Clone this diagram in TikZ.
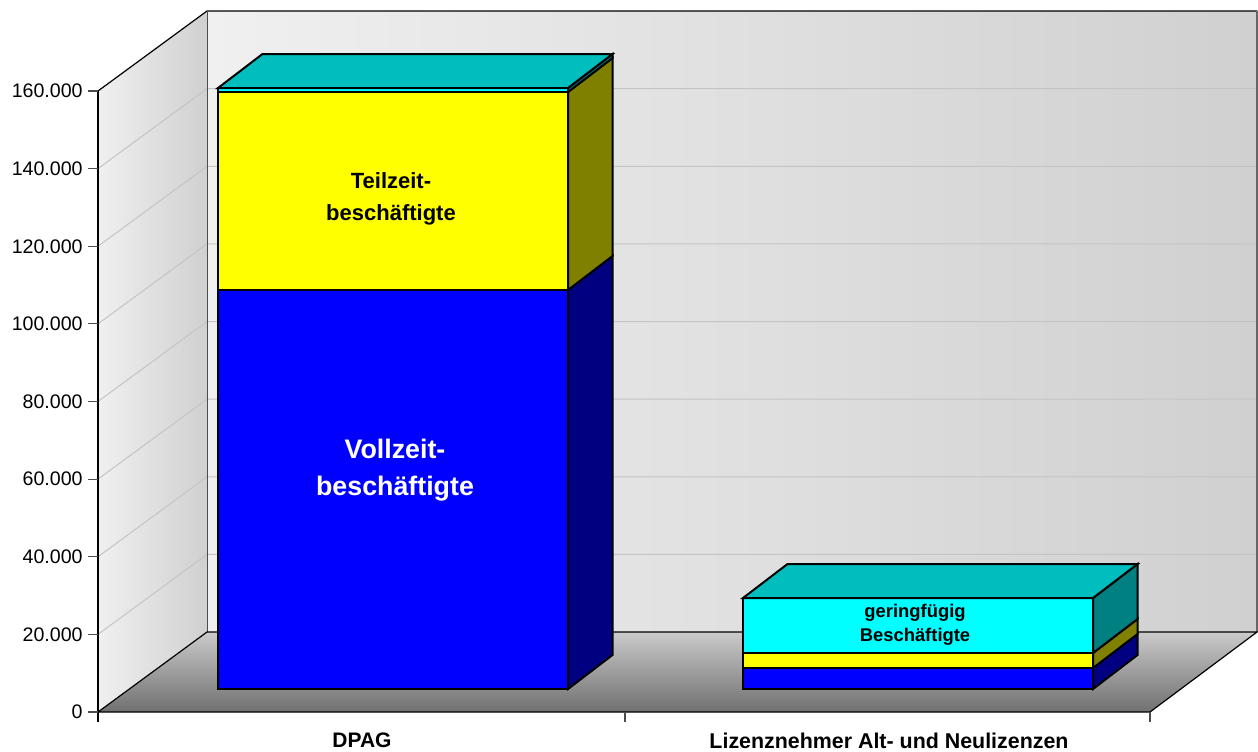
\documentclass[tikz,border=0pt]{standalone}
\usepackage{fontspec}
\setmainfont{Liberation Sans}

\definecolor{wallhi}{RGB}{240,240,240}
\definecolor{walllo}{RGB}{208,208,208}
\definecolor{floorhi}{RGB}{202,202,202}
\definecolor{floorlo}{RGB}{112,112,112}
\definecolor{gridgray}{RGB}{196,196,196}
\definecolor{vollfront}{RGB}{0,0,255}
\definecolor{vollside}{RGB}{0,0,128}
\definecolor{teilfront}{RGB}{255,255,0}
\definecolor{teilside}{RGB}{128,128,0}
\definecolor{geringfront}{RGB}{0,255,255}
\definecolor{geringside}{RGB}{0,128,128}
\definecolor{geringtop}{RGB}{0,190,190}

\begin{document}
\begin{tikzpicture}[
  x=0.5pt, y=-0.5pt,
  wall/.style={draw=black, line width=0.6pt},
  gridline/.style={draw=gridgray, line width=0.5pt},
  tickmark/.style={draw=black!70, line width=0.6pt},
  seg/.style={draw=black, line width=1pt, line join=miter},
  ticklbl/.style={anchor=east, inner sep=0pt, font=\fontsize{9.8}{11}\selectfont},
  catlbl/.style={inner sep=0pt, font=\bfseries\fontsize{10.5}{12}\selectfont},
  seglbl/.style={inner sep=0pt, align=center}
]
\useasboundingbox (0,0) rectangle (1258,751);

%% ---- walls and floor ----
\shade[left color=wallhi, right color=walllo] (207,11) rectangle (1257,632);
\shade[left color=wallhi, right color=walllo]
      (98,91) -- (207,11) -- (207,632) -- (98,712) -- cycle;
\shade[top color=floorhi, bottom color=floorlo]
      (98,712) -- (207,632) -- (1257,632) -- (1150,712) -- cycle;

%% gridlines
\foreach \k in {1,...,7}
  \draw[gridline] (98,{91+77.625*\k}) -- (207,{11+77.625*\k}) -- (1257,{11+77.625*\k});

\draw[wall] (98,91) -- (207,11) -- (1257,11);
\draw[draw=black!60, line width=0.6pt] (1257,11) -- (1257,632);
\draw[draw=black!70, line width=0.5pt] (207,11) -- (207,632);
\draw[wall] (98,712) -- (207,632) -- (1257,632) -- (1150,712) -- cycle;
\draw[wall] (98,91) -- (98,722);

%% ---- value axis ----
\foreach \k/\v in {0/0, 1/20.000, 2/40.000, 3/60.000, 4/80.000,
                   5/100.000, 6/120.000, 7/140.000, 8/160.000} {
  \draw[tickmark] (88,{712-77.625*\k}) -- (98,{712-77.625*\k});
  \node[ticklbl] (ylab\k) at (83,{712-77.625*\k}) {\v};
}
\draw[tickmark] (625,712) -- (625,722);
\draw[tickmark] (1150,712) -- (1150,722);

%% ---- DPAG bar ----
\foreach \xa/\xb/\ya/\yb/\fc/\sc in {218/568/290/689/vollfront/vollside,
                                      218/568/92/290/teilfront/teilside,
                                      218/568/88/92/geringfront/geringside} {
  \filldraw[seg, fill=\fc] (\xa,\ya) rectangle (\xb,\yb);
  \filldraw[seg, fill=\sc] (\xb,\yb) -- ++(44.5,-34) -- ++(0,{\ya-\yb}) -- (\xb,\ya) -- cycle;
}
\filldraw[seg, fill=geringtop] (218,88) -- ++(44.5,-34) -- ++(350,0) -- (568,88) -- cycle;

%% ---- Lizenznehmer bar ----
\foreach \xa/\xb/\ya/\yb/\fc/\sc in {743/1093/668/689/vollfront/vollside,
                                      743/1093/653/668/teilfront/teilside,
                                      743/1093/598/653/geringfront/geringside} {
  \filldraw[seg, fill=\fc] (\xa,\ya) rectangle (\xb,\yb);
  \filldraw[seg, fill=\sc] (\xb,\yb) -- ++(44.5,-34) -- ++(0,{\ya-\yb}) -- (\xb,\ya) -- cycle;
}
\filldraw[seg, fill=geringtop] (743,598) -- ++(44.5,-34) -- ++(350,0) -- (1093,598) -- cycle;

%% ---- segment labels ----
\node[seglbl, text=white, font=\bfseries\fontsize{13.4}{18.5}\selectfont]
     (voll) at (395,470) {Vollzeit-\\beschäftigte};
\node[seglbl, font=\bfseries\fontsize{11}{16}\selectfont]
     (teil) at (391,199) {Teilzeit-\\beschäftigte};
\node[seglbl, font=\bfseries\fontsize{9.2}{12}\selectfont]
     (gering) at (915,625) {geringfügig\\Beschäftigte};

%% ---- category labels ----
\node[catlbl] (dpag) at (362,740.5) {DPAG};
\node[catlbl, font=\bfseries\fontsize{10.7}{12}\selectfont] (lizenz) at (889,740.5)
     {Lizenznehmer Alt- und Neulizenzen};

\end{tikzpicture}
\end{document}
